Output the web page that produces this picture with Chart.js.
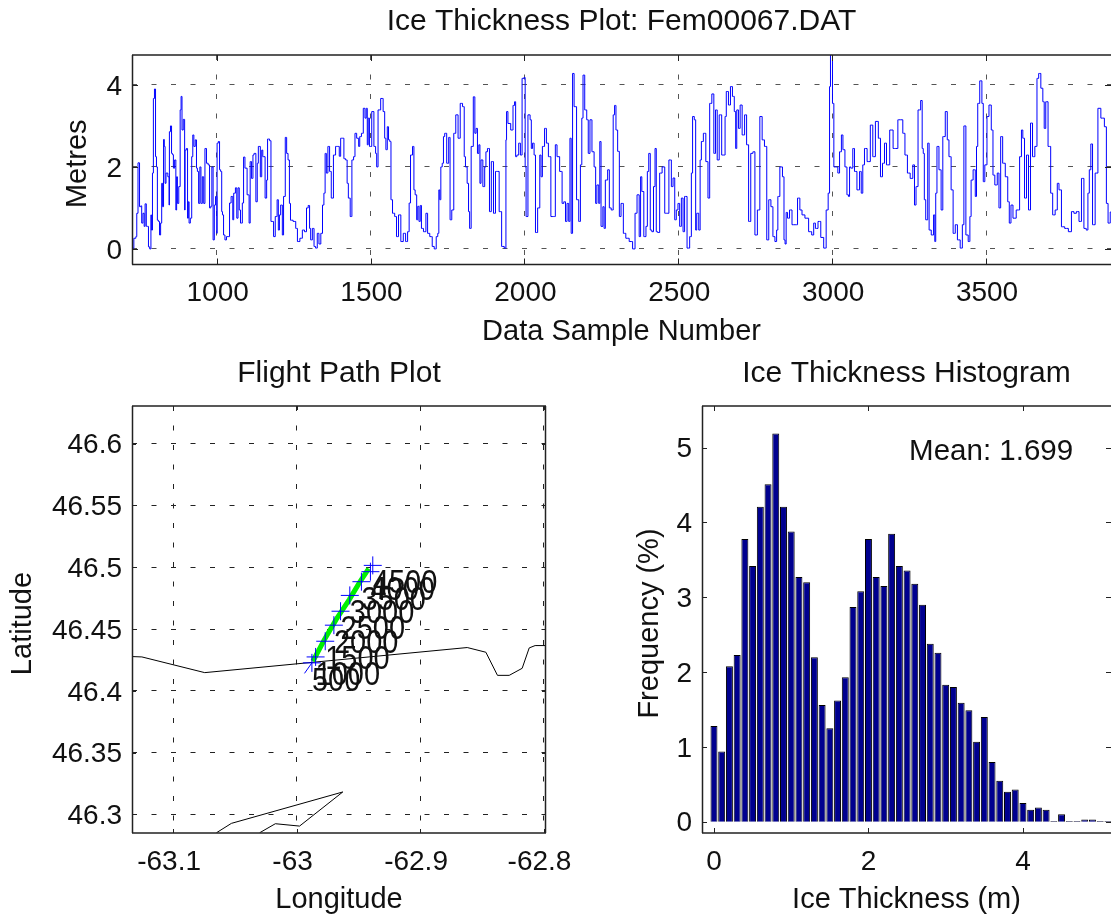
<!DOCTYPE html>
<html>
<head>
<meta charset="utf-8">
<title>Ice Thickness Plot</title>
<script src="https://cdn.jsdelivr.net/npm/chart.js@4"></script>
<style>
  html, body { margin: 0; padding: 0; background: #fff; overflow: hidden; }
  canvas { position: absolute; }
</style>
</head>
<body>
<canvas id="thicknessChart" width="1111" height="349" style="left:0;top:0"></canvas>
<canvas id="mapChart" width="590" height="572" style="left:0;top:345px"></canvas>
<canvas id="histChart" width="521" height="572" style="left:590px;top:345px"></canvas>
<script>
const sampleNumbers = [
  727,735,740,741,748,751,756,757,764,765,
  770,773,778,779,786,787,789,794,795,801,
  802,807,808,814,815,821,822,827,828,832,
  833,838,845,846,847,853,854,859,860,867,
  868,872,873,881,882,887,888,895,897,898,
  905,906,910,911,918,920,925,927,934,935,
  940,943,948,950,957,959,965,969,976,978,
  984,985,992,993,1000,1001,1002,1009,1010,1016,
  1017,1021,1024,1030,1034,1041,1043,1051,1054,1057,
  1065,1066,1073,1074,1081,1086,1089,1095,1103,1108,
  1110,1117,1119,1124,1131,1133,1138,1146,1147,1153,
  1162,1163,1168,1176,1177,1184,1186,1195,1198,1203,
  1205,1211,1216,1219,1227,1228,1236,1237,1243,1254,
  1260,1265,1276,1281,1290,1294,1301,1303,1308,1314,
  1319,1324,1330,1335,1342,1346,1351,1354,1359,1364,
  1370,1375,1384,1389,1397,1400,1406,1411,1416,1422,
  1426,1430,1438,1441,1449,1450,1460,1463,1467,1474,
  1479,1485,1487,1492,1493,1500,1508,1514,1519,1521,
  1528,1538,1544,1548,1552,1557,1560,1565,1568,1575,
  1582,1587,1595,1602,1611,1617,1624,1627,1633,1640,
  1642,1648,1652,1655,1660,1663,1668,1676,1684,1687,
  1698,1703,1711,1716,1721,1723,1727,1730,1736,1738,
  1744,1751,1757,1760,1768,1773,1781,1788,1795,1803,
  1806,1811,1817,1820,1824,1830,1838,1840,1846,1849,
  1855,1856,1862,1868,1874,1876,1884,1889,1896,1903,
  1909,1914,1922,1930,1939,1941,1943,1950,1961,1965,
  1971,1972,1979,1984,1990,1995,2002,2003,2008,2015,
  2022,2023,2030,2033,2039,2047,2053,2055,2062,2069,
  2074,2082,2090,2098,2103,2109,2120,2125,2131,2136,
  2141,2147,2149,2155,2158,2165,2174,2179,2185,2188,
  2193,2199,2206,2209,2217,2222,2231,2232,2239,2244,
  2246,2252,2258,2260,2266,2275,2277,2287,2290,2296,
  2299,2307,2310,2318,2325,2334,2347,2356,2363,2369,
  2377,2378,2385,2391,2399,2400,2408,2410,2418,2421,
  2428,2429,2437,2442,2453,2459,2464,2475,2480,2486,
  2491,2496,2502,2507,2513,2518,2523,2534,2540,2545,
  2548,2556,2557,2563,2570,2572,2578,2585,2594,2599,
  2605,2613,2618,2624,2629,2637,2645,2651,2653,2659,
  2667,2672,2680,2684,2689,2691,2700,2702,2713,2718,
  2726,2731,2740,2745,2753,2761,2769,2776,2784,2791,
  2797,2805,2810,2818,2821,2826,2834,2843,2844,2850,
  2851,2859,2864,2875,2884,2891,2899,2905,2918,2929,
  2938,2942,2949,2959,2967,2978,2983,2991,2992,2997,
  3005,3006,3016,3021,3027,3033,3037,3046,3050,3056,
  3057,3064,3070,3075,3086,3092,3097,3102,3108,3119,
  3129,3135,3146,3154,3160,3167,3173,3180,3194,3202,
  3211,3216,3227,3232,3241,3248,3259,3265,3270,3275,
  3283,3292,3293,3299,3300,3308,3313,3317,3327,3332,
  3335,3338,3343,3351,3357,3362,3373,3375,3384,3389,
  3397,3403,3411,3421,3425,3431,3438,3446,3449,3454,
  3462,3468,3470,3476,3483,3490,3492,3500,3506,3513,
  3521,3524,3533,3540,3544,3551,3557,3568,3573,3578,
  3584,3591,3605,3613,3617,3622,3628,3635,3641,3648,
  3654,3663,3668,3674,3682,3687,3691,3697,3706,3714,
  3719,3730,3733,3741,3749,3762,3773,3782,3789,3798,
  3806,3814,3822,3829,3833,3838,3843,3849,3860,3867,
  3879,3890,3892,3901,3906
];
const thicknessMetres = [
  .02,.26,.3,.87,2.1,1.03,1.05,.63,.87,.55,
  1.1,.55,.55,.05,0,.83,.46,1.85,3.67,3.9,
  2.25,2.0,.7,.67,.34,.63,1.6,1.03,2.67,2.5,
  1.6,1.85,1.76,1.07,2.86,3.0,2.33,2.3,1.97,2.17,
  .95,1.76,1.11,1.52,3.39,3.72,2.9,3.16,.95,2.41,
  2.45,.75,1.15,.63,.75,2.25,2.78,2.5,2.66,1.97,
  1.89,1.11,2.0,1.11,1.76,1.11,2.45,2.09,2.05,1.0,
  1.04,2.0,.22,1.07,1.28,.38,2.58,2.62,1.93,1.89,
  .91,.83,.34,.22,.3,.3,1.12,1.28,.71,1.36,
  1.49,.75,1.49,.95,.63,1.12,2.24,1.97,1.32,.63,
  2.13,1.72,2.29,2.33,1.15,2.09,2.5,1.76,2.41,2.25,
  1.24,1.68,2.68,2.64,.67,.67,.3,.79,1.2,.46,
  .83,1.07,.34,1.28,2.72,2.33,2.17,1.11,.7,.67,
  .5,.18,.26,.46,.42,1.0,1.06,.5,.22,.5,
  .06,.02,.38,.12,.38,1.07,1.36,2.33,1.85,2.5,
  1.89,1.24,2.29,2.5,2.5,2.26,2.7,2.7,2.2,2.17,
  1.6,1.24,.79,2.17,2.25,2.82,2.7,2.5,2.74,2.82,
  3.43,3.19,3.43,2.54,3.19,2.5,3.35,2.5,2.33,2.0,
  3.39,3.67,3.35,2.7,2.42,2.98,2.66,2.62,1.2,.87,
  .79,.3,.83,.18,.38,.18,.42,1.12,2.29,2.5,
  1.44,1.32,.71,1.04,.67,1.06,.5,.42,.87,.38,
  .3,.06,0,.3,.38,1.44,1.2,2.0,2.09,2.74,
  2.82,2.09,2.72,.71,.95,2.82,3.27,2.7,3.55,3.47,
  2.25,2.0,1.6,.91,.5,2.5,3.71,2.82,2.94,2.33,
  2.54,1.6,2.17,1.52,2.0,2.37,2.45,.91,2.13,.87,
  1.89,1.89,.91,.06,.02,2.66,3.35,3.06,2.9,3.5,
  3.59,2.25,2.29,2.58,2.29,4.16,4.18,2.0,.79,3.27,
  3.15,2.45,2.58,2.29,.4,1.0,2.29,1.76,2.5,2.94,
  2.58,2.25,.79,.79,2.54,2.25,1.89,1.11,1.15,.67,
  1.11,.67,2.7,.38,4.28,3.47,1.2,.67,2.05,3.19,
  4.24,3.39,3.15,2.33,3.15,2.37,2.0,1.11,1.56,1.11,
  2.62,.55,1.03,.5,1.68,1.93,1.0,.95,3.27,3.5,
  2.9,2.38,.79,1.11,.38,.26,.18,0,.87,1.32,
  .3,1.76,1.4,.3,.55,1.89,2.33,.46,.42,1.52,
  2.45,.42,.4,1.85,2.0,.87,.87,2.17,1.52,1.73,
  .71,.95,1.11,.55,1.24,.42,1.28,.02,.3,1.85,
  3.23,3.15,.46,.87,.46,2.17,2.62,2.82,2.13,1.24,
  3.55,3.78,2.33,3.39,2.17,3.27,2.29,2.29,3.23,3.84,
  3.51,3.96,3.72,3.35,2.45,3.39,2.94,3.51,2.78,3.27,
  2.54,.67,2.33,2.37,.34,.95,3.23,2.66,2.5,.22,
  1.2,1.03,.3,.18,.46,1.28,2.0,1.76,.22,.12,
  .89,.75,.95,.59,.59,1.24,.95,.83,.75,.42,
  .34,.63,.5,.67,.28,.02,.95,1.36,3.96,4.75,
  3.55,2.0,2.0,1.85,2.37,2.78,2.42,2.0,1.32,1.28,
  2.0,1.97,2.45,1.89,1.44,1.89,1.36,2.05,2.45,2.13,
  3.02,2.25,3.11,2.7,1.76,2.09,2.58,2.05,2.9,2.45,
  2.45,3.15,3.15,2.82,2.29,1.85,1.72,2.05,1.07,1.52,
  3.39,3.62,2.45,2.33,1.2,.71,2.58,.46,.34,.83,
  .18,1.36,2.5,1.93,.95,2.74,3.35,2.66,2.25,1.44,
  .38,.59,.22,.02,.59,3.0,.34,.18,.79,1.68,
  1.93,1.28,2.5,3.55,4.1,3.55,1.64,2.05,3.23,3.51,
  2.9,1.8,1.56,1.85,1.0,2.74,2.09,1.76,1.15,.63,
  1.07,.75,.95,2.25,2.9,2.7,1.24,2.29,.95,3.07,
  2.25,2.5,4.16,4.28,3.92,3.59,2.94,3.59,2.5,1.36,
  .83,.95,1.6,1.44,.54,.5,.42,.91,.87,.91,
  .67,1.72,.5,.46,1.36,1.93,2.56,.59,1.85,3.43,
  3.19,2.98,1.11,.63,.9
];
const sampleTicks = [1000, 1500, 2000, 2500, 3000, 3500];
const metreTicks = [0, 2, 4];

const coastLon = [-63.1334, -63.1253, -63.0744, -62.8618, -62.8467, -62.8373, -62.8278, -62.8173, -62.8116, -62.8068, -62.7987];
const coastLat = [46.4277, 46.4274, 46.4147, 46.435, 46.4312, 46.4125, 46.4125, 46.4182, 46.4347, 46.4366, 46.4366];
const islandLon = [-63.0649, -63.0528, -62.9626, -62.9976, -63.0172, -63.0299];
const islandLat = [46.2851, 46.2927, 46.3181, 46.2905, 46.2924, 46.2851];
const trackLon = [-62.9868, -62.9774, -62.9679, -62.9572, -62.9491, -62.9416];
const trackLat = [46.4239, 46.4415, 46.4578, 46.474, 46.4875, 46.4989];
const pathStartLon = -62.9936;
const pathStartLat = 46.4141;
const pathLabels = ['500', '1000', '1500', '2000', '2500', '3000', '3500', '4000', '4500'];
const pathLon = [-62.9876, -62.9846, -62.9768, -62.9698, -62.9644, -62.9569, -62.9475, -62.9402, -62.9383];
const pathLat = [46.4226, 46.4274, 46.4401, 46.4531, 46.4644, 46.4772, 46.4883, 46.4964, 46.5015];
const lonTicks = [-63.1, -63, -62.9, -62.8];
const latTicks = [46.3, 46.35, 46.4, 46.45, 46.5, 46.55, 46.6];

const binCentres = [
  0,.1,.2,.3,.4,.5,.6,.7,.8,.9,
  1,1.1,1.2,1.3,1.4,1.5,1.6,1.7,1.8,1.9,
  2,2.1,2.2,2.3,2.4,2.5,2.6,2.7,2.8,2.9,
  3,3.1,3.2,3.3,3.4,3.5,3.6,3.7,3.8,3.9,
  4,4.1,4.2,4.3,4.4,4.5,4.6,4.7,4.8,4.9,
  5,5.1,5.2
];
const frequencyPct = [
  1.28,.94,2.08,2.23,3.78,3.42,4.21,4.51,5.19,4.21,
  3.88,3.27,3.2,2.2,1.56,1.25,1.62,1.93,2.87,3.08,
  3.78,3.27,3.15,3.85,3.42,3.36,3.18,2.9,2.38,2.26,
  1.83,1.8,1.59,1.49,1.07,1.4,.8,.55,.4,.43,
  .25,.16,.19,.16,.01,.1,.01,.01,.03,.03,
  .01,.01,.01
];
const xThickTicks = [0, 2, 4];
const yFreqTicks = [0, 1, 2, 3, 4, 5];

const tickFontSize = 28;
const axisFontSize = 29;
const titleFontSize = 30;

Chart.defaults.font.family = '"Liberation Sans", Arial, sans-serif';
Chart.defaults.font.size = tickFontSize;
Chart.defaults.color = '#111';
Chart.defaults.animation = false;
Chart.defaults.responsive = false;
Chart.defaults.devicePixelRatio = 1;
Chart.defaults.plugins.legend.display = false;
Chart.defaults.plugins.tooltip.enabled = false;

function zip(xs, ys) {
  return xs.map((x, i) => ({ x: x, y: ys[i] }));
}

// matlab style box with the tick marks on the inside
function boxPlugin(tickLen, sides) {
  return {
    id: 'box',
    afterDatasetsDraw(chart) {
      const { ctx, chartArea: a, scales: { x, y } } = chart;
      ctx.save();
      ctx.strokeStyle = '#222';
      ctx.lineWidth = 1;
      ctx.beginPath();
      x.ticks.forEach(t => {
        const px = Math.round(x.getPixelForValue(t.value)) + 0.5;
        ctx.moveTo(px, a.bottom); ctx.lineTo(px, a.bottom - tickLen);
        ctx.moveTo(px, a.top); ctx.lineTo(px, a.top + tickLen);
      });
      y.ticks.forEach(t => {
        const py = Math.round(y.getPixelForValue(t.value)) + 0.5;
        ctx.moveTo(a.left, py); ctx.lineTo(a.left + tickLen, py);
        ctx.moveTo(a.right, py); ctx.lineTo(a.right - tickLen, py);
      });
      ctx.stroke();
      ctx.lineWidth = 1.5;
      ctx.strokeStyle = '#222';
      ctx.beginPath();
      ctx.moveTo(a.left, a.top); ctx.lineTo(a.right, a.top);
      ctx.moveTo(a.left, a.bottom); ctx.lineTo(a.right, a.bottom);
      ctx.moveTo(a.left + 0.5, a.top); ctx.lineTo(a.left + 0.5, a.bottom);
      if (sides.right) { ctx.moveTo(a.right - 0.5, a.top); ctx.lineTo(a.right - 0.5, a.bottom); }
      ctx.stroke();
      ctx.restore();
    }
  };
}

function axis(min, max, ticks, title, size, titlePad, tickPad, labelOffset, grid) {
  const isY = title.vertical;
  return {
    type: 'linear',
    offset: false,
    min: min,
    max: max,
    afterBuildTicks(s) { s.ticks = ticks.map(v => ({ value: v })); },
    afterFit(s) { if (isY) s.width = size; else s.height = size; },
    grid: grid
      ? { color: grid, lineWidth: 1, drawTicks: false, offset: false }
      : { display: false, drawTicks: false, offset: false },
    border: { display: false, dash: [5, 14.5] },
    ticks: {
      padding: tickPad,
      labelOffset: labelOffset,
      autoSkip: false,
      maxRotation: 0,
      callback: v => String(v)
    },
    title: {
      display: true,
      text: title.text,
      color: '#111',
      font: { size: axisFontSize },
      padding: titlePad
    }
  };
}

function chartTitle(text, top, bottom) {
  return {
    display: true,
    fullSize: false,
    text: text,
    color: '#111',
    font: { size: titleFontSize, weight: 'normal' },
    padding: { top: top, bottom: bottom }
  };
}

new Chart(document.getElementById('thicknessChart'), {
  type: 'line',
  data: {
    datasets: [{
      data: zip(sampleNumbers, thicknessMetres),
      borderColor: '#0000ff',
      borderWidth: 1,
      pointRadius: 0,
      stepped: 'middle'
    }]
  },
  options: {
    layout: { padding: 0 },
    plugins: { title: chartTitle('Ice Thickness Plot: Fem00067.DAT', 4, 15) },
    scales: {
      x: axis(725, 3906, sampleTicks, { text: 'Data Sample Number' }, 84.5, { top: 0, bottom: 0 }, 12, 1, '#555'),
      // trailing space nudges the rotated title down a little
      y: axis(-0.38, 4.73, metreTicks, { text: 'Metres ', vertical: true }, 132, { top: 61, bottom: 0 }, 10, 2, '#555')
    }
  },
  plugins: [boxPlugin(6, {})]
});

const pathLabelPlugin = {
  id: 'pathLabels',
  afterDatasetsDraw(chart) {
    const { ctx, scales: { x, y } } = chart;
    ctx.save();
    ctx.font = '29px "Liberation Sans", Arial, sans-serif';
    ctx.fillStyle = '#111';
    ctx.textBaseline = 'alphabetic';
    pathLabels.forEach((label, i) => {
      ctx.save();
      ctx.translate(x.getPixelForValue(pathLon[i]), y.getPixelForValue(pathLat[i]) + 28);
      ctx.scale(1, 1.12);
      ctx.fillText(label, 0, 0);
      ctx.restore();
    });
    ctx.restore();
  }
};

new Chart(document.getElementById('mapChart'), {
  type: 'scatter',
  data: {
    datasets: [
      {
        data: zip(pathLon, pathLat),
        showLine: false,
        pointStyle: 'cross',
        pointRadius: 9,
        pointBorderWidth: 1,
        pointBorderColor: '#0000ff',
        order: 1
      },
      {
        data: zip(trackLon, trackLat),
        showLine: true,
        borderColor: '#00f000',
        borderWidth: 5,
        pointRadius: 0,
        order: 2
      },
      {
        data: zip([pathStartLon, pathLon[0]], [pathStartLat, pathLat[0]]),
        showLine: true,
        borderColor: '#0000ff',
        borderWidth: 1,
        pointRadius: 0,
        order: 3
      },
      {
        data: zip(coastLon, coastLat),
        showLine: true,
        borderColor: '#000',
        borderWidth: 1,
        pointRadius: 0,
        order: 4
      },
      {
        data: zip(islandLon, islandLat),
        showLine: true,
        borderColor: '#000',
        borderWidth: 1,
        pointRadius: 0,
        order: 5
      }
    ]
  },
  options: {
    layout: { padding: { right: 44 } },
    plugins: { title: chartTitle('Flight Path Plot', 11, 14) },
    scales: {
      x: axis(-63.1333, -62.798, lonTicks, { text: 'Longitude' }, 84, { top: 0, bottom: 0 }, 12, -4, '#222'),
      y: axis(46.2849, 46.6305, latTicks, { text: 'Latitude ', vertical: true }, 132, { top: 6, bottom: 0 }, 10, 2, '#222')
    }
  },
  plugins: [boxPlugin(4, { right: true }), pathLabelPlugin]
});

const meanPlugin = {
  id: 'meanText',
  afterDatasetsDraw(chart) {
    const { ctx, scales: { x, y } } = chart;
    ctx.save();
    ctx.font = '29.5px "Liberation Sans", Arial, sans-serif';
    ctx.fillStyle = '#111';
    ctx.textBaseline = 'middle';
    ctx.fillText('Mean: 1.699', x.getPixelForValue(2.526), y.getPixelForValue(4.95));
    ctx.restore();
  }
};

new Chart(document.getElementById('histChart'), {
  type: 'bar',
  data: {
    datasets: [{
      data: zip(binCentres, frequencyPct),
      backgroundColor: '#00008f',
      borderColor: '#000',
      borderWidth: 1,
      barPercentage: 0.9,
      categoryPercentage: 1
    }]
  },
  options: {
    plugins: { title: chartTitle('Ice Thickness Histogram', 11, 14) },
    scales: {
      x: axis(-0.155, 5.14, xThickTicks, { text: 'Ice Thickness (m)' }, 84, { top: 0, bottom: 0 }, 12, 0, null),
      y: axis(-0.15, 5.557, yFreqTicks, { text: 'Frequency (%) ', vertical: true }, 112, { top: 43, bottom: 0 }, 10, 2, null)
    }
  },
  plugins: [boxPlugin(5, {}), meanPlugin]
});
</script>
</body>
</html>
